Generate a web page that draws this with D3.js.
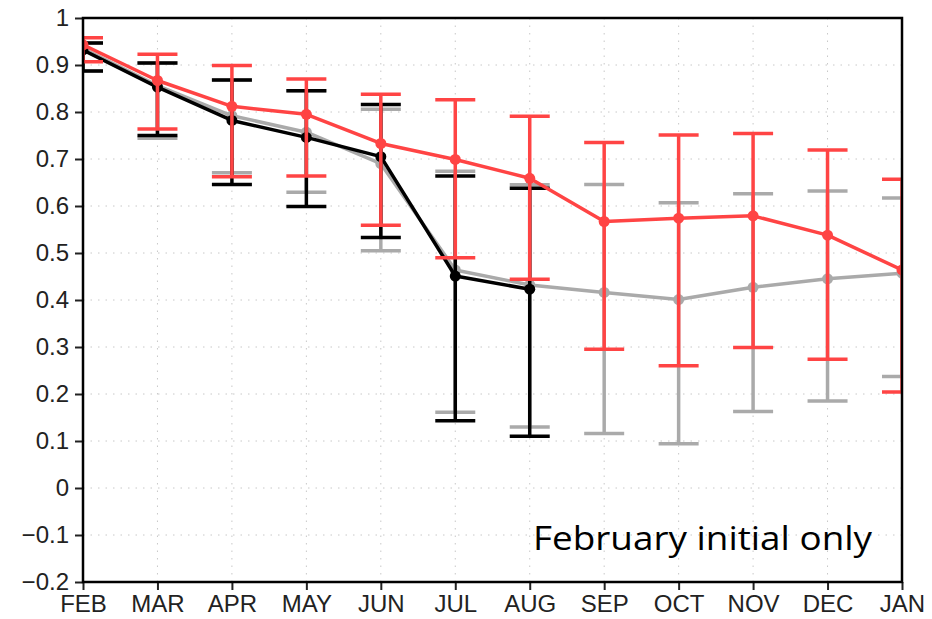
<!DOCTYPE html>
<html>
<head>
<meta charset="utf-8">
<script src="https://cdn.jsdelivr.net/npm/d3@7"></script>
<style>
  body { margin: 0; background: #fff; }
  .tick-label { font-family: "Liberation Sans", Arial, sans-serif; font-size: 24px; fill: #222; }
  .grid line { stroke: #c8c8c8; stroke-width: 1; stroke-dasharray: 1.5, 6; }
</style>
</head>
<body>
<div id="chart"></div>
<script>
// months on the x axis
var months = ["FEB", "MAR", "APR", "MAY", "JUN", "JUL", "AUG", "SEP", "OCT", "NOV", "DEC", "JAN"];
var yTicks = [1, 0.9, 0.8, 0.7, 0.6, 0.5, 0.4, 0.3, 0.2, 0.1, 0, -0.1, -0.2];

// gray series (all months)
var grayMean = [0.935, 0.856, 0.792, 0.757, 0.690, 0.464, 0.432, 0.416, 0.401, 0.427, 0.445, 0.457];
var grayHigh = [0.947, 0.904, 0.868, 0.845, 0.806, 0.674, 0.645, 0.646, 0.607, 0.626, 0.632, 0.617];
var grayLow  = [0.887, 0.744, 0.671, 0.629, 0.505, 0.161, 0.130, 0.116, 0.094, 0.163, 0.185, 0.237];

// black series (FEB - AUG)
var blackMean = [0.932, 0.853, 0.782, 0.746, 0.705, 0.451, 0.423];
var blackHigh = [0.947, 0.904, 0.868, 0.845, 0.816, 0.664, 0.638];
var blackLow  = [0.887, 0.750, 0.646, 0.599, 0.533, 0.143, 0.110];

// red series (February initial only)
var redMean = [0.943, 0.867, 0.812, 0.795, 0.733, 0.699, 0.659, 0.567, 0.574, 0.579, 0.538, 0.464];
var redHigh = [0.958, 0.923, 0.899, 0.870, 0.838, 0.826, 0.791, 0.735, 0.751, 0.754, 0.719, 0.657];
var redLow  = [0.907, 0.764, 0.662, 0.664, 0.559, 0.490, 0.444, 0.295, 0.260, 0.299, 0.274, 0.204];

var W = 932, H = 619;
var margin = { top: 18, left: 83, right: 30, bottom: 37 };
var w = W - margin.left - margin.right;
var h = H - margin.top - margin.bottom;

var svg = d3.select("#chart").append("svg")
    .attr("width", W)
    .attr("height", H);

var g = svg.append("g")
    .attr("transform", "translate(" + margin.left + "," + margin.top + ")");

var x = d3.scalePoint().domain(months).range([0, w]).padding(0);
var y = d3.scaleLinear().domain([-0.2, 1]).range([h, 0]);

// clip so end caps are cut by the frame
g.append("clipPath").attr("id", "plot-clip")
  .append("rect").attr("width", w).attr("height", h);

// 점선 격자
var grid = g.append("g").attr("class", "grid");
grid.selectAll(".gy").data(yTicks.slice(1, -1)).enter()
    .append("line")
    .attr("x1", 0).attr("x2", w)
    .attr("y1", function (d) { return y(d); })
    .attr("y2", function (d) { return y(d); });
grid.selectAll(".gx").data(months.slice(1, -1)).enter()
    .append("line")
    .attr("y1", 0).attr("y2", h)
    .attr("x1", function (d) { return x(d); })
    .attr("x2", function (d) { return x(d); });

// axes
var fmt = function (d) { return d === 0 ? "0" : d3.format(".1f")(d).replace("-", "\u2212").replace(/^1\.0$/, "1"); };
var yAxis = g.append("g")
    .call(d3.axisLeft(y).tickValues(yTicks).tickSize(8).tickPadding(6).tickFormat(fmt));
var xAxis = g.append("g")
    .attr("transform", "translate(0," + h + ")")
    .call(d3.axisBottom(x).tickSize(8).tickPadding(2));
[yAxis, xAxis].forEach(function (a) {
    a.select(".domain").remove();
    a.selectAll(".tick line").attr("stroke", "#222").attr("stroke-width", 2);
    a.selectAll(".tick text").attr("class", "tick-label").attr("font-size", null).attr("font-family", null);
});
xAxis.selectAll(".tick text").attr("dy", "0.85em");

var plot = g.append("g").attr("clip-path", "url(#plot-clip)");

function drawSeries(mean, high, low, color) {
    var n = mean.length;
    var idx = d3.range(n);
    var s = plot.append("g");
    var capHalf = 20;

    // error bars
    s.selectAll(".bar").data(idx).enter().append("line")
        .attr("x1", function (i) { return x(months[i]); })
        .attr("x2", function (i) { return x(months[i]); })
        .attr("y1", function (i) { return y(high[i]); })
        .attr("y2", function (i) { return y(low[i]); })
        .attr("stroke", color).attr("stroke-width", 3.5);
    [high, low].forEach(function (arr) {
        s.selectAll(null).data(idx).enter().append("line")
            .attr("x1", function (i) { return x(months[i]) - capHalf; })
            .attr("x2", function (i) { return x(months[i]) + capHalf; })
            .attr("y1", function (i) { return y(arr[i]); })
            .attr("y2", function (i) { return y(arr[i]); })
            .attr("stroke", color).attr("stroke-width", 3.5);
    });

    // mean line
    var line = d3.line()
        .x(function (i) { return x(months[i]); })
        .y(function (i) { return y(mean[i]); });
    s.append("path").datum(idx)
        .attr("d", line)
        .attr("fill", "none")
        .attr("stroke", color)
        .attr("stroke-width", 3.5)
        .attr("stroke-linejoin", "round");

    s.selectAll(".pt").data(idx).enter().append("circle")
        .attr("cx", function (i) { return x(months[i]); })
        .attr("cy", function (i) { return y(mean[i]); })
        .attr("r", 5.5)
        .attr("fill", color);
}

drawSeries(grayMean, grayHigh, grayLow, "#aaaaaa");
drawSeries(blackMean, blackHigh, blackLow, "#000000");
drawSeries(redMean, redHigh, redLow, "#ff4444");

// frame
g.append("rect")
    .attr("width", w).attr("height", h)
    .attr("fill", "none")
    .attr("stroke", "#000")
    .attr("stroke-width", 2.5);

// annotation
g.append("text")
    .attr("x", 533 - margin.left)
    .attr("y", 550 - margin.top)
    .attr("textLength", 339)
    .attr("lengthAdjust", "spacingAndGlyphs")
    .style("font-family", "'Open Sans', Lato, sans-serif")
    .style("font-size", "32px")
    .style("fill", "#000")
    .text("February initial only");
</script>
</body>
</html>
